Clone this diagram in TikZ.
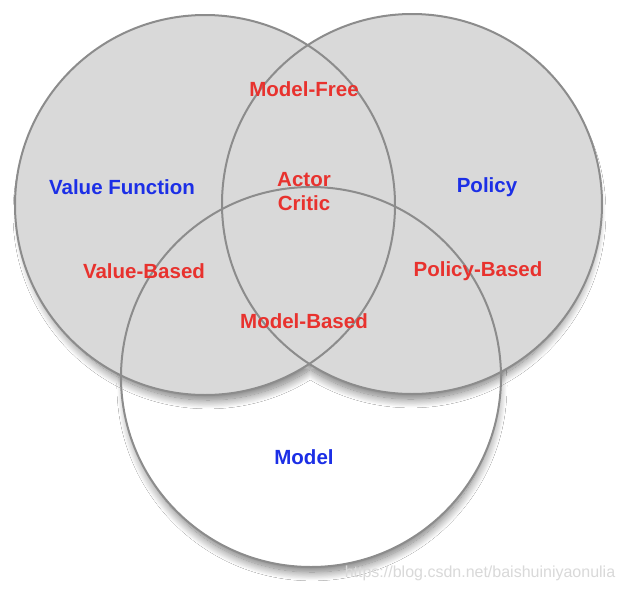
\documentclass[tikz,border=0pt]{standalone}
\usepackage{fontspec}
\setmainfont{Liberation Sans}
\usetikzlibrary{shadows.blur}
\definecolor{fillgray}{HTML}{D9D9D9}
\definecolor{edgegray}{HTML}{8C8C8C}
\definecolor{lblred}{HTML}{E8322E}
\definecolor{lblblue}{HTML}{1C2FE6}
\tikzset{
  edge/.style={draw=edgegray, line width=2pt},
  shad/.style={blur shadow={shadow xshift=1pt, shadow yshift=-9pt, shadow scale=0.98, shadow blur radius=9pt, shadow blur steps=16, shadow opacity=55}},
  redlbl/.style={text=lblred, font=\fontsize{20.5}{24}\selectfont\bfseries, align=center, inner sep=0pt},
  bluelbl/.style={text=lblblue, font=\fontsize{20.5}{24}\selectfont\bfseries, align=center, inner sep=0pt},
  wmark/.style={text=gray!30, font=\fontsize{16}{18}\selectfont, inner sep=0pt}
}
\begin{document}
\begin{tikzpicture}[x=1pt,y=-1pt]
\useasboundingbox[fill=white] (0,0) rectangle (625,590);
\coordinate (cL) at (205,205);
\coordinate (cR) at (412,204);
\coordinate (cB) at (311,377);
% bottom (model) circle
\path[shad, fill=white] (cB) circle (190);
% top two circles
\path[shad, fill=fillgray] (cL) circle (190) (cR) circle (190);
% outlines
\draw[edge] (cL) circle (190);
\draw[edge] (cR) circle (190);
\draw[edge] (cB) circle (190);
% labels
\node[redlbl] (mf) at (304,89) {Model-Free};
\node[redlbl] (ac) at (304,192) {Actor\\Critic};
\node[bluelbl] (vf) at (122,187) {Value Function};
\node[bluelbl] (po) at (487,187) {Policy};
\node[redlbl] (vb) at (144,271) {Value-Based};
\node[redlbl] (pb) at (478,271) {Policy-Based};
\node[redlbl] (mb) at (304,321) {Model-Based};
\node[bluelbl] (mo) at (304,457) {Model};
\node[wmark] (wm) at (480,573) {https://blog.csdn.net/baishuiniyaonulia};
\end{tikzpicture}
\end{document}
